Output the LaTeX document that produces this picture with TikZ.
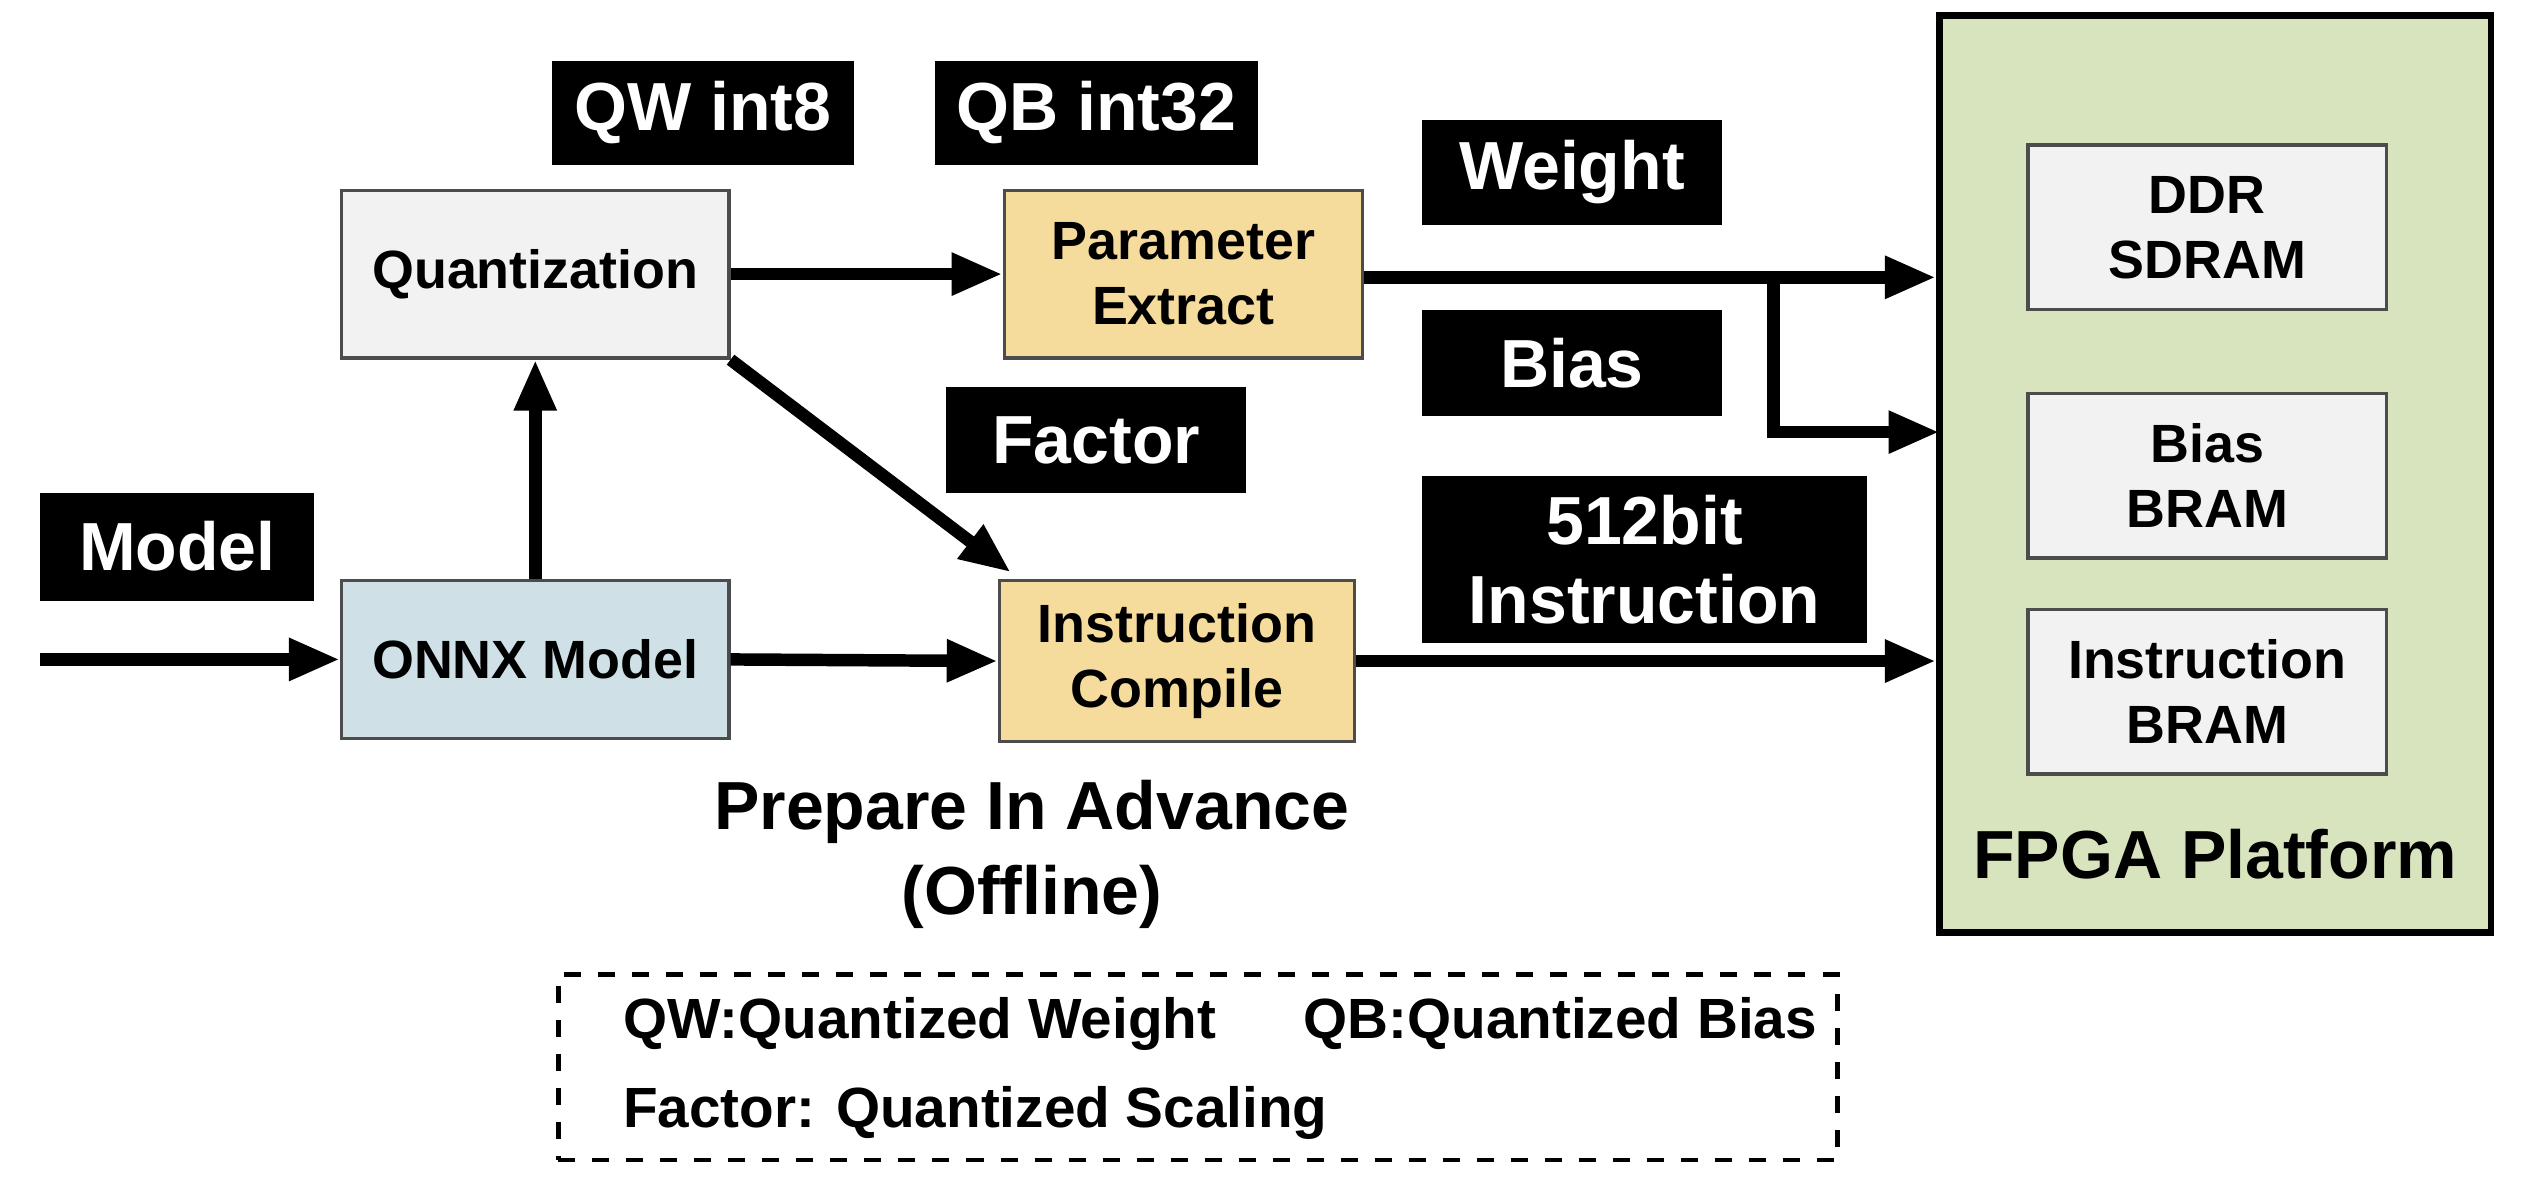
\documentclass[tikz,border=0pt]{standalone}
\usepackage{fontspec}
\setmainfont{Liberation Sans}
\usetikzlibrary{arrows.meta,positioning,calc}
\definecolor{boxgray}{HTML}{F2F2F2}
\definecolor{tan}{HTML}{F6DC9C}
\definecolor{onnxblue}{HTML}{CFE0E6}
\definecolor{fpgagreen}{HTML}{D7E4BD}

\begin{document}
\begin{tikzpicture}[
    x=0.01cm, y=-0.01cm,
    tag/.style={rectangle, fill=black, text=white, font=\bfseries\fontsize{12}{14}\selectfont, align=center, inner sep=0pt},
    box/.style={rectangle, draw=black!70, line width=0.6pt, minimum width=2.25cm, minimum height=1.02cm, align=center, font=\bfseries\fontsize{9.5}{11.5}\selectfont, inner sep=0pt},
    mem/.style={box, fill=boxgray, minimum width=2.22cm, minimum height=1.02cm},
    arrow/.style={-{Triangle[length=9pt,width=7pt]}, line width=2.2pt}
]
    \useasboundingbox (0,0) rectangle (1568,738);

    % FPGA side
    \node[rectangle, draw, line width=1.2pt, fill=fpgagreen, minimum width=3.42cm, minimum height=5.68cm] (fpga) at (1374,294) {};
    \node[mem] (ddr) at (1369,141) {DDR\\SDRAM};
    \node[mem] (biasram) at (1369,295) {Bias\\BRAM};
    \node[mem] (instram) at (1369,429) {Instruction\\BRAM};
    \node[font=\bfseries\fontsize{12}{14}\selectfont] (fpgatxt) at (1374,530) {FPGA Platform};

    % offline flow
    \node[box, fill=boxgray, minimum width=2.4cm, minimum height=1.04cm] (quant) at (332,170) {Quantization};
    \node[box, fill=onnxblue, minimum width=2.4cm, minimum height=0.98cm] (onnx) at (332,409) {ONNX Model};
    \node[box, fill=tan, minimum width=2.22cm, minimum height=1.04cm] (extract) at (734,170) {Parameter\\Extract};
    \node[box, fill=tan, minimum width=2.2cm, minimum height=1.0cm] (compile) at (730,410) {Instruction\\Compile};

    % black labels
    \node[tag, minimum width=1.87cm, minimum height=0.64cm] (qw) at (436,70) {QW int8};
    \node[tag, minimum width=2.0cm, minimum height=0.64cm] (qb) at (680,70) {QB int32};
    \node[tag, minimum width=1.86cm, minimum height=0.65cm] (weight) at (975,107) {Weight};
    \node[tag, minimum width=1.86cm, minimum height=0.66cm] (bias) at (975,225) {Bias};
    \node[tag, minimum width=1.86cm, minimum height=0.66cm] (factor) at (680,273) {Factor};
    \node[tag, minimum width=1.7cm, minimum height=0.67cm] (model) at (110,339) {Model};
    \node[tag, minimum width=2.76cm, minimum height=1.03cm] (instr) at (1020,347) {512bit\\Instruction};

    \coordinate (start) at (25,409);
    \coordinate (split) at (1100,172);
    \coordinate (biasin) at (1203,268);
    \coordinate (ctop) at (627,355);

    \draw[arrow] (start) -- (onnx.west);
    \draw[arrow] (onnx.north) -- (quant.south);
    \draw[arrow] (quant.east) -- (extract.west);
    \draw[arrow] (quant.south east) -- (ctop);
    \draw[arrow] (onnx.east) -- (compile.west);
    \draw[arrow] (extract.east |- split) -- (fpga.west |- split);
    \draw[arrow] (split) |- (biasin);
    \draw[arrow] (compile.east) -- (fpga.west |- compile.east);

    % caption and legend
    \node[font=\bfseries\fontsize{12}{15}\selectfont, align=center] (caption) at (640,530) {Prepare In Advance\\(Offline)};
    \node[rectangle, draw, dashed, line width=0.8pt, minimum width=7.93cm, minimum height=1.15cm] (legend) at (743,662) {};
    \node[font=\bfseries\fontsize{10}{12}\selectfont, anchor=west] (lqw) at (374,635) {QW:Quantized Weight};
    \node[font=\bfseries\fontsize{10}{12}\selectfont, anchor=west] (lqb) at (796,635) {QB:Quantized Bias};
    \node[font=\bfseries\fontsize{10}{12}\selectfont, anchor=west] (lf) at (374,690) {Factor: Quantized Scaling};
\end{tikzpicture}
\end{document}
